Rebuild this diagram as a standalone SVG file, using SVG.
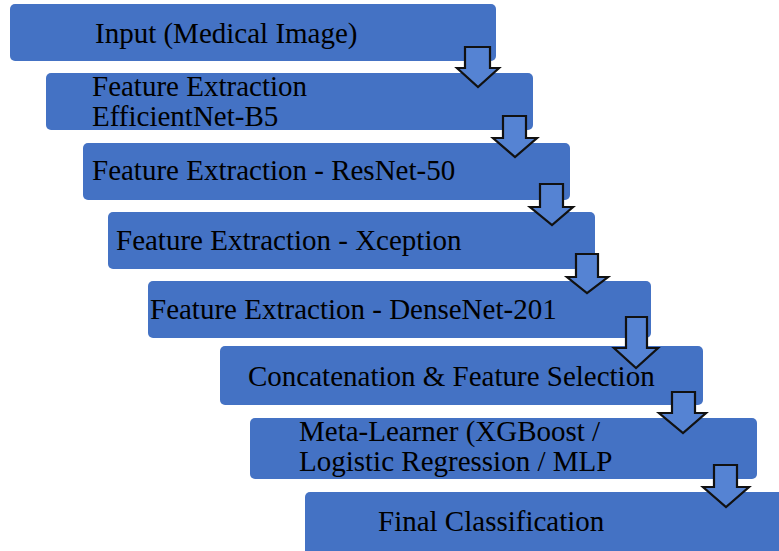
<svg xmlns="http://www.w3.org/2000/svg" width="779" height="551" viewBox="0 0 779 551">
<style>
.box{fill:#4472C4;}
.t{font-family:'Liberation Serif','Times New Roman','DejaVu Serif',serif;font-size:29px;fill:#000;}
.arr{fill:#5583d3;stroke:#111;stroke-width:2.2;stroke-linejoin:miter;}
</style>
<rect width="779" height="551" fill="#fff"/>
<g id="n1"><rect class="box" x="10" y="4" width="486" height="57" rx="5"/><text class="t" x="95" y="43">Input (Medical Image)</text></g>
<g id="n2"><rect class="box" x="46" y="73" width="487" height="57" rx="5"/><text class="t" x="92" y="96">Feature Extraction</text><text class="t" x="92" y="126">EfficientNet-B5</text></g>
<g id="n3"><rect class="box" x="83" y="143" width="487" height="57" rx="5"/><text class="t" x="92" y="180">Feature Extraction - ResNet-50</text></g>
<g id="n4"><rect class="box" x="108" y="212" width="487" height="57" rx="5"/><text class="t" x="116" y="250">Feature Extraction - Xception</text></g>
<g id="n5"><rect class="box" x="148" y="281" width="503" height="57" rx="5"/><text class="t" x="150" y="319">Feature Extraction - DenseNet-201</text></g>
<g id="n6"><rect class="box" x="220" y="346" width="483" height="59" rx="5"/><text class="t" x="248" y="386">Concatenation &amp; Feature Selection</text></g>
<g id="n7"><rect class="box" x="250" y="418" width="507" height="61" rx="5"/><text class="t" x="299" y="441">Meta-Learner (XGBoost /</text><text class="t" x="299" y="471">Logistic Regression / MLP</text></g>
<g id="n8"><rect class="box" x="305" y="492" width="480" height="65" rx="5"/><text class="t" x="378" y="531">Final Classification</text></g>
<g id="connectors">
<polygon class="arr" points="465,47 490,47 490,68 499,68 478,87 457,68 465,68"/>
<polygon class="arr" points="503,116 526,116 526,138 537,138 515,157 493,138 503,138"/>
<polygon class="arr" points="540,184 563,184 563,207 573,207 552,225 530,207 540,207"/>
<polygon class="arr" points="576,254 598,254 598,277 608,277 587,293 567,277 576,277"/>
<polygon class="arr" points="626,317 647,317 647,348 658,348 636,368 614,348 626,348"/>
<polygon class="arr" points="672,392 695,392 695,413 706,413 683,433 659,413 672,413"/>
<polygon class="arr" points="714,465 737,465 737,487 749,487 726,507 703,487 714,487"/>
</g>
</svg>
